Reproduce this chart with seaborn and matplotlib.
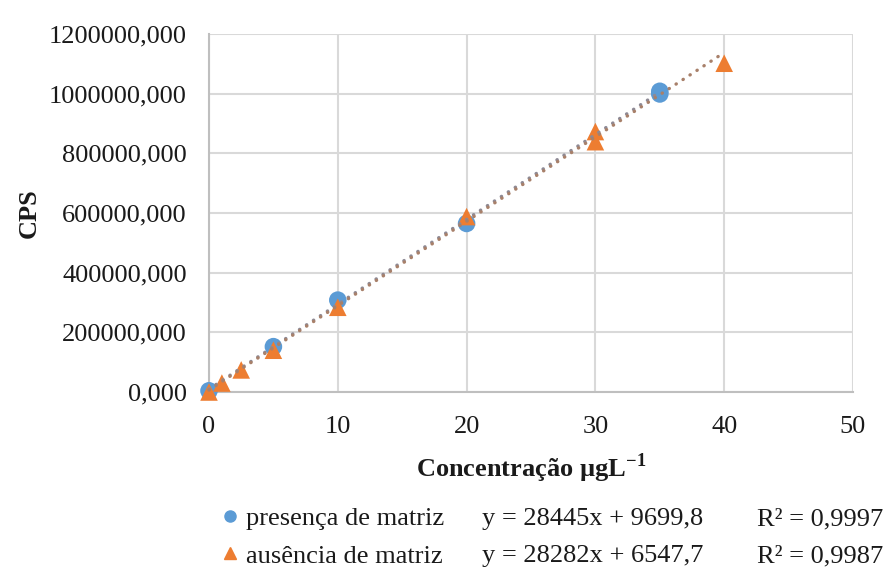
import matplotlib
matplotlib.use("Agg")
import matplotlib.pyplot as plt
import seaborn as sns
import numpy as np
import pandas as pd
from matplotlib.lines import Line2D
from matplotlib.ticker import FuncFormatter, FixedLocator

# ---------------- data ----------------
series_names = ["presença de matriz", "ausência de matriz"]
pres_x = [0, 5, 10, 20, 35, 35]
pres_y = [4000, 152000, 308000, 565000, 999000, 1008000]
aus_x = [0, 1, 2.5, 5, 10, 20, 30, 30, 40]
aus_y = [0, 30000, 74000, 140000, 284000, 588000, 873000, 839000, 1102000]
slopes = [28445, 28282]
intercepts = [9699.8, 6547.7]
eq_labels = ["y = 28445x + 9699,8", "y = 28282x + 6547,7"]
r2_labels = ["R² = 0,9997", "R² = 0,9987"]
x_ticks = [0, 10, 20, 30, 40, 50]
y_ticks = [0, 200000, 400000, 600000, 800000, 1000000, 1200000]
x_label = "Concentração µgL$^{\\mathbf{-1}}$"
y_label = "CPS"

# ---------------- style ----------------
sns.set_theme(style="white")
plt.rcParams["font.family"] = ["Liberation Serif", "DejaVu Serif"]
plt.rcParams["mathtext.fontset"] = "custom"
plt.rcParams["mathtext.rm"] = "Liberation Serif"
plt.rcParams["mathtext.bf"] = "Liberation Serif:bold"
FS = 19
TXT = "#1a1a1a"
BLUE = "#5B9BD5"
ORANGE = "#ED7D31"
GRID = "#D9D9D9"

df = pd.concat([
    pd.DataFrame({"x": pres_x, "y": pres_y, "serie": series_names[0]}),
    pd.DataFrame({"x": aus_x, "y": aus_y, "serie": series_names[1]}),
], ignore_index=True)

fig = plt.figure(figsize=(8.87, 5.76), dpi=100)
ax = fig.add_axes([209 / 887, 1 - 392 / 576, (853 - 209) / 887, (392 - 34) / 576])

sns.scatterplot(data=df, x="x", y="y", hue="serie", style="serie",
                markers={series_names[0]: "o", series_names[1]: "^"},
                palette={series_names[0]: BLUE, series_names[1]: ORANGE},
                s=160, edgecolor="none", linewidth=0, legend=False, ax=ax, zorder=3)
for coll in ax.collections:
    coll.set_clip_on(False)

# trendlines (from stated equations over each series' x-range)
trend_colors = ["#8E8A95", "#A8806A"]
for xs, m, b, c in zip([pres_x, aus_x], slopes, intercepts, trend_colors):
    xr = np.array([min(xs), max(xs)])
    ax.plot(xr, m * xr + b, color=c, lw=2.4, linestyle=(0, (0.1, 2.4)),
            dash_capstyle="round", zorder=4, clip_on=False)

ax.set_xlim(0, 50)
ax.set_ylim(0, 1200000)
ax.xaxis.set_major_locator(FixedLocator(x_ticks))
ax.yaxis.set_major_locator(FixedLocator(y_ticks))
ax.yaxis.set_major_formatter(FuncFormatter(lambda v, p: f"{v:.3f}".replace(".", ",")))
ax.grid(True, color=GRID, lw=1.5)
ax.set_axisbelow(True)
for s in ["top", "right"]:
    ax.spines[s].set_visible(False)
for s in ["left", "bottom"]:
    ax.spines[s].set_color("#BFBFBF")
    ax.spines[s].set_linewidth(1.5)
ax.tick_params(axis="both", length=0, labelsize=FS, labelcolor=TXT)
ax.tick_params(axis="y", pad=16)
ax.tick_params(axis="x", pad=17)

ax.set_xlabel(x_label, fontsize=FS, fontweight="bold", color=TXT)
ax.set_ylabel(y_label, fontsize=FS, fontweight="bold", color=TXT)
ax.xaxis.set_label_coords(0.5, -0.165)
ax.yaxis.set_label_coords(-0.262, 0.5)

# legend-like block
handles = [Line2D([], [], marker="o", color=BLUE, ls="none", markersize=8),
           Line2D([], [], marker="^", color=ORANGE, ls="none", markersize=9)]
fig.legend(handles, series_names, loc="upper left",
           bbox_to_anchor=(222 / 887, 1 - 507 / 576), frameon=False,
           fontsize=FS, handlelength=0.6, handletextpad=0.3, labelspacing=0.52,
           borderpad=0, borderaxespad=0, labelcolor=TXT)
row_base = [525, 562]
for eq, r2, yb in zip(eq_labels, r2_labels, row_base):
    fig.text(482 / 887, 1 - yb / 576, eq, fontsize=FS, color=TXT, va="baseline", ha="left")
    fig.text(757 / 887, 1 - yb / 576, r2, fontsize=FS, color=TXT, va="baseline", ha="left")

fig.savefig("out.png", dpi=100)
